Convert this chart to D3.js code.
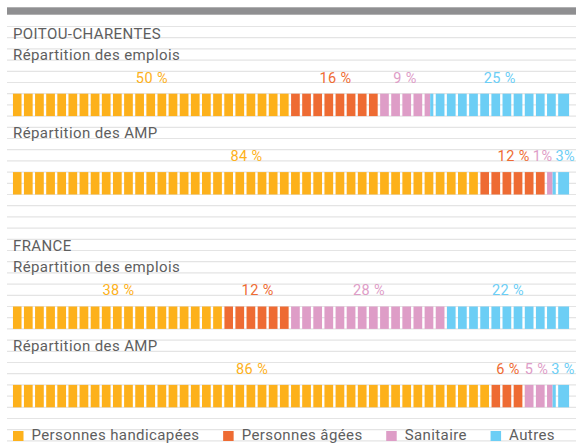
<!DOCTYPE html>
<html>
<head>
<meta charset="utf-8">
<script src="https://cdn.jsdelivr.net/npm/d3@7"></script>
<style>
  html, body { margin: 0; padding: 0; background: #fff; }
  svg { display: block; font-family: Roboto, "Noto Sans", sans-serif; }
</style>
</head>
<body>
<div id="chart"></div>
<script>
var categories = ["Personnes handicapées", "Personnes âgées", "Sanitaire", "Autres"],
    colors = ["#fdb11b", "#ee6b33", "#de9dc7", "#6ccef5"];

var regions = ["POITOU-CHARENTES", "FRANCE"],
    subtitles = ["Répartition des emplois", "Répartition des AMP"];

var poitouEmplois = [50, 16, 9, 25],
    poitouAmp = [84, 12, 1, 3],
    franceEmplois = [38, 12, 28, 22],
    franceAmp = [86, 6, 5, 3];

var poitouEmploisLabels = ["50 %", "16 %", "9 %", "25 %"],
    poitouAmpLabels = ["84 %", "12 %", "1%", "3%"],
    franceEmploisLabels = ["38 %", "12 %", "28 %", "22 %"],
    franceAmpLabels = ["86 %", "6 %", "5 %", "3 %"];

var width = 576, height = 445;

// every text and bar sits on the ruled lines
var row = d3.scaleLinear().domain([0, 1]).range([26.5, 37.7]);
var x = d3.scaleLinear().domain([0, 100]).range([12.8, 569.3]);

var sections = [
  {title: regions[0], top: 0, charts: [
    {sub: subtitles[0], values: poitouEmplois, labels: poitouEmploisLabels},
    {sub: subtitles[1], values: poitouAmp, labels: poitouAmpLabels}]},
  {title: regions[1], top: 19, charts: [
    {sub: subtitles[0], values: franceEmplois, labels: franceEmploisLabels},
    {sub: subtitles[1], values: franceAmp, labels: franceAmpLabels}]}
];

var svg = d3.select("#chart").append("svg")
    .attr("width", width)
    .attr("height", height);

// ruled background
svg.append("g")
    .selectAll("line")
    .data(d3.range(0, 38))
  .enter().append("line")
    .attr("x1", 7)
    .attr("x2", width)
    .attr("y1", function(k) { return row(k); })
    .attr("y2", function(k) { return row(k); })
    .attr("stroke", "#e4e4e4")
    .attr("stroke-width", 1.2);

svg.append("rect")
    .attr("x", 7)
    .attr("y", 7.3)
    .attr("width", width - 7)
    .attr("height", 7.4)
    .attr("fill", "#8f8f91");

// 50 blocks of 2 % each
var blockGap = 2.4;
var defs = svg.append("defs");
var clip = defs.append("clipPath").attr("id", "blocks");
clip.selectAll("rect")
    .data(d3.range(50))
  .enter().append("rect")
    .attr("x", function(i) { return x(i * 2); })
    .attr("y", 0)
    .attr("width", function(i) { return i === 49 ? x(100) - x(98) : x(i * 2 + 2) - x(i * 2) - blockGap; })
    .attr("height", height);

sections.forEach(function(s) {
  svg.append("text")
      .attr("x", 13)
      .attr("y", row(s.top + 1) + 0.8)
      .attr("fill", "#5e5e5e")
      .style("font-size", "15px")
      .style("letter-spacing", "0.4px")
      .text(s.title);

  s.charts.forEach(function(c, ci) {
    var base = s.top + 3 + ci * 7;

    svg.append("text")
        .attr("x", 13)
        .attr("y", row(base) - 0.5)
        .attr("fill", "#5e5e5e")
        .style("font-size", "15px")
        .style("letter-spacing", "0.4px")
        .text(c.sub);

    var stacked = [], acc = 0;
    c.values.forEach(function(v, i) {
      stacked.push({x0: acc, x1: acc + v, i: i, label: c.labels[i]});
      acc += v;
    });

    svg.append("g")
        .attr("clip-path", "url(#blocks)")
      .selectAll("rect")
        .data(stacked)
      .enter().append("rect")
        .attr("x", function(d) { return x(d.x0); })
        .attr("y", row(base + 3))
        .attr("width", function(d) { return x(d.x1) - x(d.x0); })
        .attr("height", row(base + 5) - row(base + 3))
        .attr("fill", function(d) { return colors[d.i]; });

    var labels = svg.append("g").selectAll("text")
        .data(stacked)
      .enter().append("text")
        .attr("y", row(base + 2))
        .attr("fill", function(d) { return colors[d.i]; })
        .style("font-size", "14.5px")
        .style("letter-spacing", "0.4px")
        .text(function(d) { return d.label; });

    // centre on the segment, then push apart the ones that collide
    var boxes = [];
    labels.each(function(d) {
      var w = this.getComputedTextLength();
      var c0 = (x(d.x0) + x(d.x1)) / 2;
      boxes.push({l: c0 - w / 2, w: w});
    });
    for (var it = 0; it < 30; it++) {
      for (var j = 1; j < boxes.length; j++) {
        var over = boxes[j - 1].l + boxes[j - 1].w + 3 - boxes[j].l;
        if (over > 0) {
          boxes[j - 1].l -= over / 2;
          boxes[j].l += over / 2;
        }
      }
      var last = boxes[boxes.length - 1];
      if (last.l + last.w > width - 1) last.l = width - 1 - last.w;
    }
    labels.attr("x", function(d, i) { return boxes[i].l; });
  });
});

// legend
var legend = svg.append("g");
var items = legend.selectAll("g")
    .data(categories)
  .enter().append("g");

items.append("rect")
    .attr("y", 431)
    .attr("width", 10.5)
    .attr("height", 10)
    .attr("fill", function(d, i) { return colors[i]; });

items.append("text")
    .attr("x", 18.5)
    .attr("y", row(37) - 0.5)
    .attr("fill", "#5e5e5e")
    .style("font-size", "15px")
    .style("letter-spacing", "0.4px")
    .text(function(d) { return d; });

var itemWidths = [];
items.each(function() { itemWidths.push(18.5 + d3.select(this).select("text").node().getComputedTextLength()); });
var legendGap = (555 - 13 - d3.sum(itemWidths)) / (itemWidths.length - 1);
var lx = 13;
items.attr("transform", function(d, i) {
  var t = "translate(" + lx + ",0)";
  lx += itemWidths[i] + legendGap;
  return t;
});
</script>
</body>
</html>
